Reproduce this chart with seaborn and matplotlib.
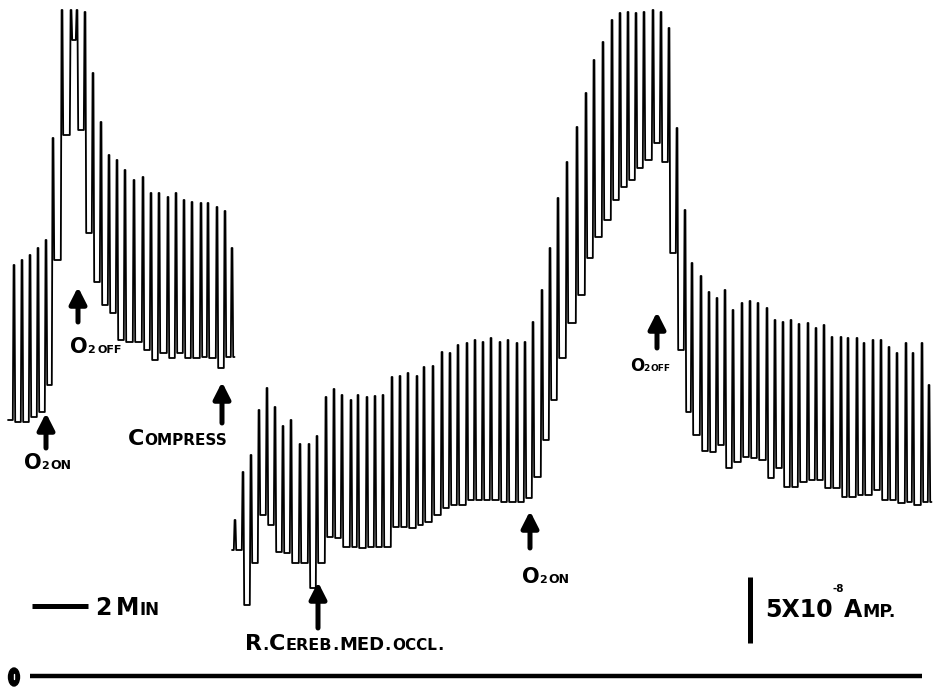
import numpy as np
import pandas as pd
import matplotlib
matplotlib.use("Agg")
import matplotlib.pyplot as plt
import seaborn as sns
from matplotlib.patches import Ellipse

sns.set_theme(style="white")
plt.rcParams["font.family"] = ["DejaVu Sans"]

# Pen positions on the recorder paper (horizontal: paper position, vertical: pen
# deflection measured down from the top edge; higher current = smaller value).
# Record 1: before compression
rec1_time = [14, 22, 30, 38, 46, 53, 62, 71, 77, 85, 93, 101, 109, 117, 125, 134,
             143, 151, 159, 168, 176, 184, 192, 201, 208, 217, 225, 232]
rec1_peak = [265, 260, 255, 248, 240, 138, 10, 10, 10, 12, 73, 122, 155, 160, 170, 180,
             177, 193, 193, 197, 193, 200, 202, 203, 203, 207, 211, 248]
rec1_base = [422, 422, 417, 412, 385, 260, 135, 40, 130, 233, 282, 305, 313, 340, 342, 342,
             350, 360, 353, 358, 353, 358, 358, 357, 358, 368, 357, 357]
rec1_start = (8, 420)

# Record 2: after compression / middle cerebral occlusion
rec2_time = [235, 243, 251, 259, 267, 275, 283, 291, 300, 309, 317, 326, 334, 342, 351, 358,
             367, 375, 383, 392, 400, 408, 417, 424, 433, 442, 450, 458, 467, 475, 483, 491,
             500, 508, 517, 525, 533, 542, 550, 558, 567, 577, 586, 594, 603, 612, 620, 628,
             636, 644, 653, 661, 669, 677, 685, 692, 701, 709, 717, 725, 733, 742, 750, 758,
             767, 775, 783, 791, 799, 808, 816, 824, 832, 841, 848, 857, 864, 873, 881, 889,
             897, 906, 913, 922, 929]
rec2_peak = [520, 472, 455, 410, 388, 407, 426, 420, 444, 444, 436, 397, 389, 395, 400, 395,
             397, 396, 395, 377, 376, 373, 376, 367, 366, 352, 353, 345, 343, 340, 342, 338,
             342, 340, 343, 342, 322, 290, 248, 198, 162, 127, 93, 60, 42, 20, 13, 12,
             13, 12, 10, 12, 28, 128, 210, 263, 276, 292, 298, 290, 310, 303, 301, 303,
             308, 320, 322, 320, 324, 323, 328, 325, 337, 337, 338, 338, 343, 340, 340, 347,
             353, 343, 353, 343, 385]
rec2_base = [550, 605, 563, 515, 525, 552, 553, 563, 563, 588, 563, 537, 538, 547, 547, 548,
             547, 547, 547, 527, 527, 528, 525, 522, 515, 508, 505, 505, 500, 500, 500, 500,
             502, 502, 502, 498, 477, 440, 400, 358, 323, 295, 258, 237, 220, 200, 187, 180,
             168, 160, 143, 162, 253, 350, 412, 435, 451, 452, 445, 468, 462, 457, 458, 460,
             478, 468, 487, 487, 482, 480, 480, 488, 488, 497, 497, 495, 495, 490, 500, 500,
             503, 502, 505, 502, 502]
rec2_start = (232, 550)

W, H = 939, 692
fig = plt.figure(figsize=(W / 100, H / 100), dpi=100)
ax = fig.add_axes([0, 0, 1, 1])


def pen_path(times, peaks, bases, start):
    """Expand each deflection into the up-stroke / down-stroke of the pen."""
    xs, ys = [start[0]], [start[1]]
    prev = start[1]
    for t, p, b in zip(times, peaks, bases):
        xs += [t - 1.2, t - 0.4, t + 0.4, t + 1.2]
        ys += [prev, p, p, b]
        prev = b
    xs.append(times[-1] + 2.5)
    ys.append(prev)
    return pd.DataFrame({"t": xs, "pen": ys})


for times, peaks, bases, start in [(rec1_time, rec1_peak, rec1_base, rec1_start),
                                   (rec2_time, rec2_peak, rec2_base, rec2_start)]:
    df = pen_path(times, peaks, bases, start)
    sns.lineplot(data=df, x="t", y="pen", sort=False, estimator=None,
                 color="black", lw=1.3, ax=ax)
ax.set_xlim(0, W)
ax.set_ylim(H, 0)
ax.axis("off")

renderer = fig.canvas.get_renderer()


def caps_label(x, y, parts):
    """Draw text made of pieces of different sizes, side by side."""
    cur = x
    for s, size, rise, gap in parts:
        t = ax.text(cur, y - rise, s, fontsize=size, fontweight="bold",
                    va="baseline", ha="left", color="black")
        bb = t.get_window_extent(renderer)
        cur += bb.width + gap


def arrow(x, tail, tip):
    ax.annotate("", xy=(x, tip), xytext=(x, tail),
                arrowprops=dict(arrowstyle="-|>,head_width=0.28,head_length=0.55",
                                lw=3.6, color="black", shrinkA=0, shrinkB=0,
                                mutation_scale=18))


# Event markers
arrow(46, 448, 413)
caps_label(24, 469, [("O", 15, 0, -1), ("2", 8, 0, 2), ("ON", 9, 0, 0)])

arrow(78, 322, 287)
caps_label(70, 353, [("O", 15, 0, -1), ("2", 8, 0, 3), ("OFF", 8, 0, 0)])

arrow(222, 423, 382)
caps_label(128, 445, [("C", 16, 0, 0), ("OMPRESS", 11, 0, 0)])

arrow(318, 628, 582)
caps_label(245, 650, [("R", 16, 0, 0), (".", 12, 0, 1), ("C", 16, 0, 0),
                      ("EREB", 11.5, 0, 0), (".", 12, 0, 1), ("MED", 13, 0, 0),
                      (".", 12, 0, 1), ("OCCL", 11, 0, 0), (".", 12, 0, 0)])

arrow(530, 548, 511)
caps_label(522, 583, [("O", 15, 0, -1), ("2", 8, 0, 2), ("ON", 9, 0, 0)])

arrow(657, 348, 312)
caps_label(630, 371, [("O", 12, 0, -1), ("2", 6.5, 0, 1), ("OFF", 6.5, 0, 0)])

# Time calibration
ax.plot([32, 88], [606, 606], color="black", lw=3.6, solid_capstyle="butt")
caps_label(95, 615, [("2", 17, 0, 5), ("M", 17, 0, 0), ("IN", 12, 0, 0)])

# Current calibration
ax.plot([750, 750], [577, 643], color="black", lw=3.6, solid_capstyle="butt")
caps_label(765, 617, [("5X10", 17, 0, 0), ("-8", 7.5, 25, 0), ("A", 17, 0, 0),
                      ("MP.", 12.5, 0, 0)])

# Zero line of the recorder
ax.plot([30, 922], [676, 676], color="black", lw=3.2, solid_capstyle="butt")
ax.add_patch(Ellipse((14, 677), 11, 18, color="black"))
ax.plot([14, 14], [674, 679], color="white", lw=1.0)

fig.savefig("out.png", dpi=100, facecolor="white")
